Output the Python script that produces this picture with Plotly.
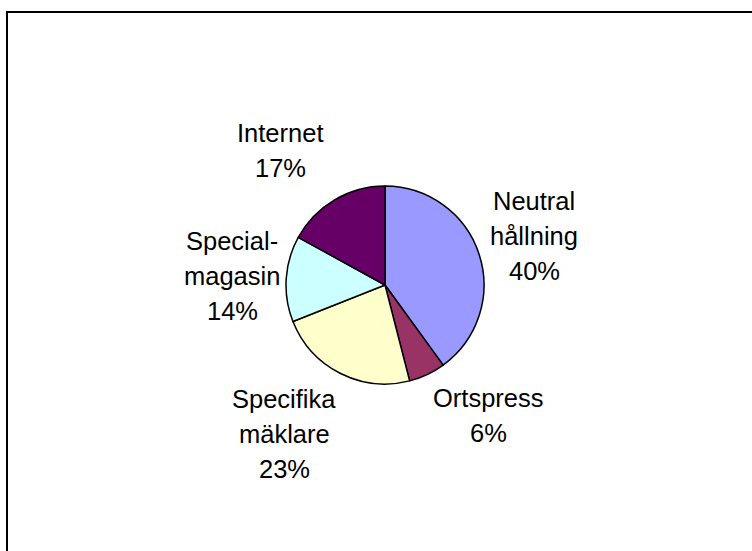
import plotly.graph_objects as go

# Share of answers per information source
categories = ["Neutral hållning", "Ortspress", "Specifika mäklare", "Special-magasin", "Internet"]
values = [40, 6, 23, 14, 17]
colors = ["#9999FF", "#993366", "#FFFFCC", "#CCFFFF", "#660066"]

# Label text lines (category part) for each slice
label_lines = [["Neutral", "hållning"], ["Ortspress"], ["Specifika", "mäklare"], ["Special-", "magasin"], ["Internet"]]

W, H = 752, 551
cx, cy, r = 385, 285, 99  # pie centre and radius in pixels

fig = go.Figure(go.Pie(
    labels=categories,
    values=values,
    sort=False,
    direction="clockwise",
    rotation=0,
    marker=dict(colors=colors, line=dict(color="black", width=1.5)),
    textinfo="none",
    hoverinfo="label+percent",
    showlegend=False,
    domain=dict(x=[(cx - r) / W, (cx + r) / W], y=[(H - cy - r) / H, (H - cy + r) / H]),
))

# Label anchor positions (pixels: centre x, first-line y) and line spacing
label_pos = [(534, 201), (488, 398), (284, 399), (232, 241), (280, 133)]
line_gap = 35

total = sum(values)
annotations = []
for lines, v, (lx, ly) in zip(label_lines, values, label_pos):
    texts = lines + [f"{round(100 * v / total)}%"]
    for i, t in enumerate(texts):
        annotations.append(dict(
            x=lx / W, y=1 - (ly + i * line_gap) / H,
            xref="paper", yref="paper",
            text=t, showarrow=False,
            xanchor="center", yanchor="middle",
            font=dict(family="Liberation Sans, Arial, sans-serif", size=25.5, color="black"),
        ))

# Chart-area frame (top and left edges visible)
bx, by = 7 / W, 1 - 12 / H
shapes = [
    dict(type="line", xref="paper", yref="paper", x0=6 / W, y0=by, x1=1.05, y1=by,
         line=dict(color="black", width=2)),
    dict(type="line", xref="paper", yref="paper", x0=bx, y0=1 - 11 / H, x1=bx, y1=-0.05,
         line=dict(color="black", width=2)),
]

fig.update_layout(
    width=W, height=H,
    margin=dict(l=0, r=0, t=0, b=0),
    paper_bgcolor="white",
    plot_bgcolor="white",
    annotations=annotations,
    shapes=shapes,
)

fig.write_html("out.html")
